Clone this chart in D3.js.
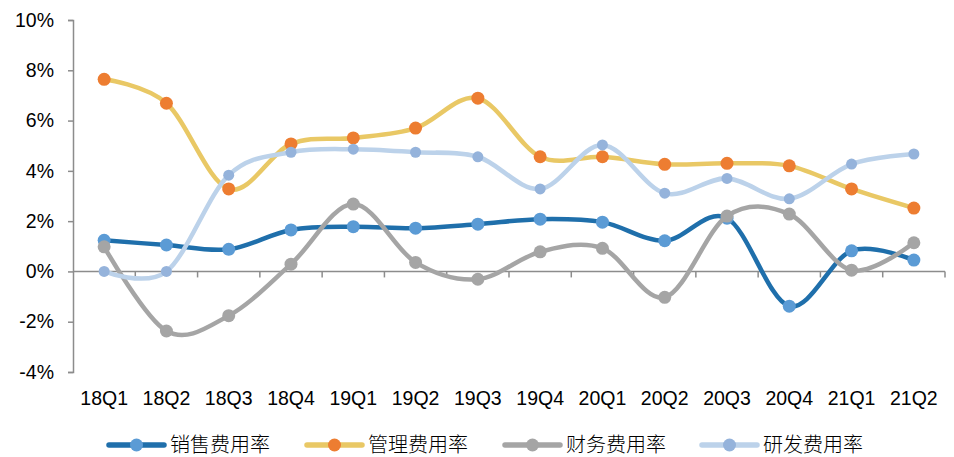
<!DOCTYPE html>
<html><head><meta charset="utf-8">
<script src="https://cdn.jsdelivr.net/npm/d3@7"></script>
<style>body{margin:0;background:#fff}</style>
</head><body><svg id="c" width="954" height="457"></svg>
<script>
const categories = ["18Q1","18Q2","18Q3","18Q4","19Q1","19Q2","19Q3","19Q4","20Q1","20Q2","20Q3","20Q4","21Q1","21Q2"];
const sales = [1.24,1.05,0.88,1.65,1.78,1.72,1.88,2.08,1.96,1.22,2.12,-1.38,0.82,0.45];
const admin = [7.64,6.69,3.28,5.07,5.31,5.70,6.89,4.56,4.56,4.26,4.30,4.20,3.28,2.52];
const finance = [0.98,-2.37,-1.76,0.29,2.68,0.36,-0.31,0.78,0.92,-1.03,2.20,2.28,0.05,1.14];
const rnd = [0.00,0.00,3.83,4.74,4.86,4.74,4.56,3.28,5.03,3.11,3.70,2.89,4.27,4.67];
const yTicks = [-4,-2,0,2,4,6,8,10];
const seriesNames = ["销售费用率","管理费用率","财务费用率","研发费用率"];

const series = [
  {name: seriesNames[0], values: sales, line: "#1F6FAB", marker: "#5B9BD5", r: 6.5},
  {name: seriesNames[1], values: admin, line: "#E9C865", marker: "#ED7D31", r: 6.5},
  {name: seriesNames[2], values: finance, line: "#A5A5A5", marker: "#A5A5A5", r: 6.5},
  {name: seriesNames[3], values: rnd, line: "#BCD2EA", marker: "#95B3DB", r: 5.5}
];
const drawOrder = [0,1,2,3];

const svg = d3.select("#c");
const x = d3.scaleBand().domain(categories).range([73, 945]);
const y = d3.scaleLinear().domain([-4, 10]).range([372, 20]);
const font = "'Liberation Sans', Arial, sans-serif";

// y axis
const yAxis = svg.append("g").attr("transform","translate(73,0)")
  .call(d3.axisLeft(y).tickValues(yTicks).tickSize(5).tickPadding(8).tickFormat(d => d + "%"));
yAxis.select(".domain").attr("stroke","#8c8c8c").attr("stroke-width",1.5);
yAxis.selectAll(".tick line").attr("stroke","#8c8c8c").attr("stroke-width",1.5);
yAxis.selectAll("text").attr("font-family",font).attr("font-size",19.5).attr("fill","#000").attr("dx",-6);

// x axis at 0
const xAxisG = svg.append("g").attr("transform",`translate(0,${y(0)})`);
xAxisG.append("line").attr("x1",73).attr("x2",945).attr("stroke","#8c8c8c").attr("stroke-width",1.5);
xAxisG.selectAll("line.t").data(categories).enter().append("line")
  .attr("x1", d => x(d) + x.bandwidth()).attr("x2", d => x(d) + x.bandwidth())
  .attr("y1",0).attr("y2",6).attr("stroke","#8c8c8c").attr("stroke-width",1.5);
svg.append("g").selectAll("text").data(categories).enter().append("text")
  .attr("x", d => x(d) + x.bandwidth()/2).attr("y", 405)
  .attr("text-anchor","middle").attr("font-family",font).attr("font-size",19.5).attr("fill","#000")
  .text(d => d);

const line = d3.line().x((d,i) => x(categories[i]) + x.bandwidth()/2).y(d => y(d)).curve(d3.curveCardinal.tension(0));

drawOrder.forEach(k => {
  const s = series[k];
  const g = svg.append("g");
  g.append("path").attr("d", line(s.values)).attr("fill","none").attr("stroke", s.line).attr("stroke-width",4.5).attr("stroke-linecap","round");
  g.selectAll("circle").data(s.values).enter().append("circle")
    .attr("cx",(d,i) => x(categories[i]) + x.bandwidth()/2).attr("cy", d => y(d)).attr("r", s.r).attr("fill", s.marker);
});

// legend
const legX = [109, 307, 505, 702];
const legY = 445;
series.forEach((s,i) => {
  const g = svg.append("g");
  g.append("line").attr("x1",legX[i]).attr("x2",legX[i]+55).attr("y1",legY).attr("y2",legY).attr("stroke",s.line).attr("stroke-width",5.5).attr("stroke-linecap","round");
  g.append("circle").attr("cx",legX[i]+27.5).attr("cy",legY).attr("r",6.5).attr("fill",s.marker);
  g.append("text").attr("x",legX[i]+61).attr("y",legY+7).attr("font-family","'Noto Sans CJK SC', sans-serif").attr("font-size",20).attr("font-weight",300).attr("fill","#000").text(s.name);
});
</script></body></html>
